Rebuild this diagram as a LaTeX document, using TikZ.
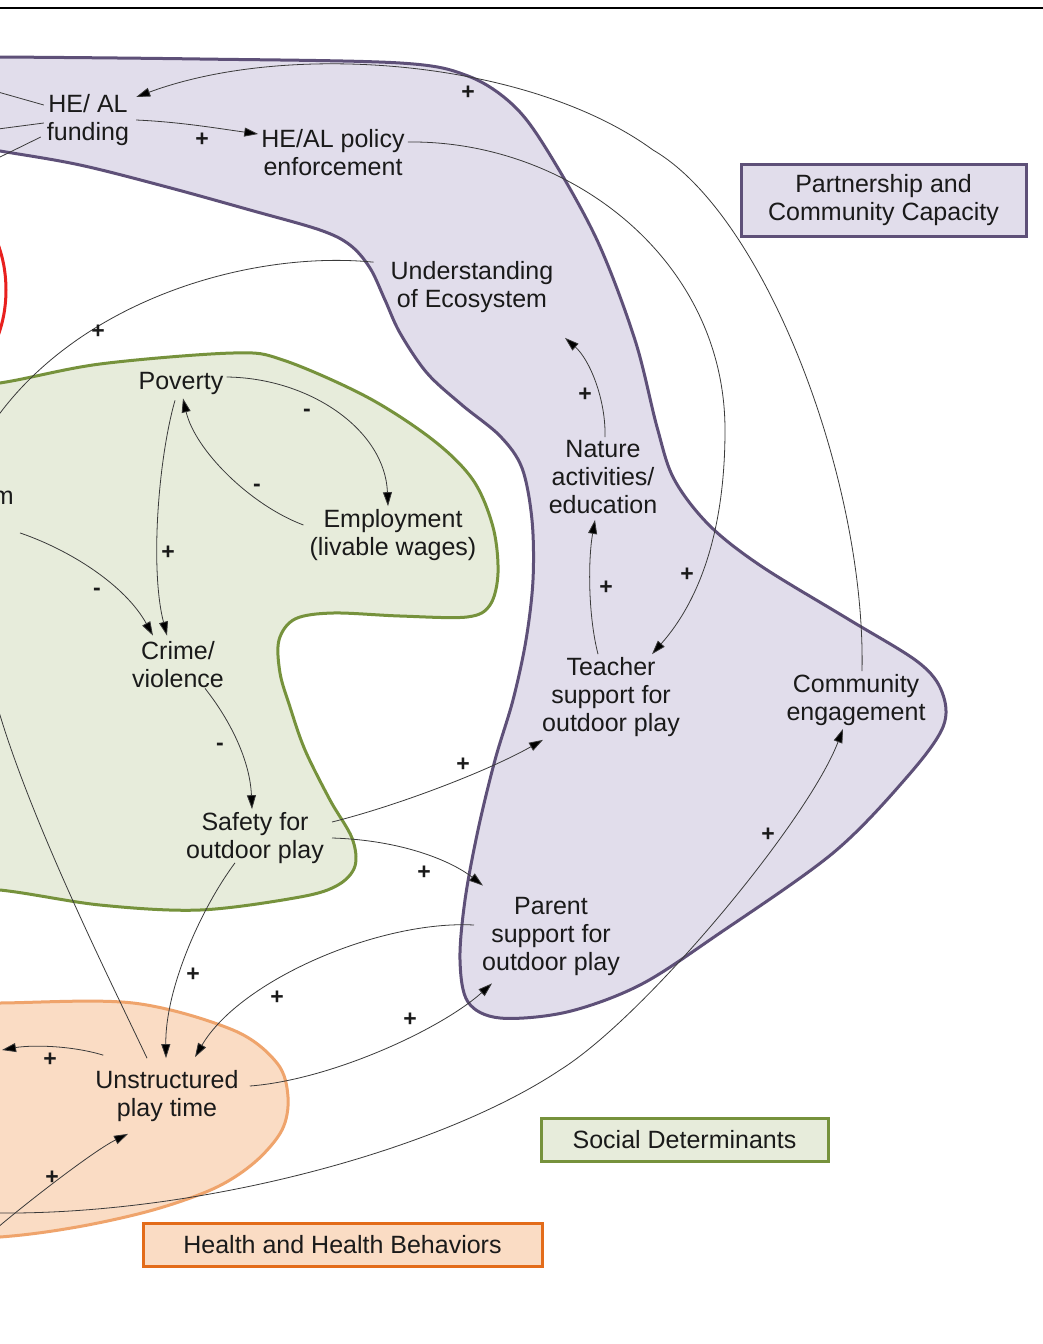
\documentclass[tikz,border=0pt]{standalone}
\usepackage{fontspec}
\setmainfont{Liberation Sans}
\usetikzlibrary{arrows.meta}
\definecolor{purfill}{HTML}{E1DDEB}
\definecolor{purline}{HTML}{5E5078}
\definecolor{grnfill}{HTML}{E7ECDB}
\definecolor{grnline}{HTML}{76923C}
\definecolor{orgfill}{HTML}{FADCC4}
\definecolor{orgline}{HTML}{EFA46C}
\definecolor{orgbox}{HTML}{E36C1A}
\definecolor{redline}{HTML}{E8201E}
\definecolor{lin}{HTML}{3A3A3A}
\definecolor{txt}{HTML}{1A1A1A}
\begin{document}
\begin{tikzpicture}[x=1pt,y=-1pt,
  lbl/.style={font=\fontsize{25}{28}\selectfont, align=center, inner sep=3pt, text=txt},
  conn/.style={draw=lin, line width=0.8pt, -{Triangle[length=14pt,width=9pt,fill=black]}},
  plainline/.style={draw=lin, line width=0.8pt},
  sgn/.style={font=\fontsize{23}{23}\selectfont\bfseries, inner sep=1pt, text=txt},
  region/.style={line width=3pt, smooth cycle, tension=0.55},
  legend/.style={lbl, line width=3pt, minimum height=43pt}]
\useasboundingbox (0,0) rectangle (1043,1344);
\clip (0,0) rectangle (1043,1344);
\fill[white] (0,0) rectangle (1043,1344);
\draw[line width=2.5pt, black] (0,8) -- (1043,8);

% red region (partly visible)
\draw[redline, line width=3pt] (-66,290) ellipse [x radius=72, y radius=100];

% orange region
\draw[region, draw=orgline, fill=orgfill] plot coordinates {(-100,1005) (0,1003) (133,1003) (233,1030) (277,1063) (288,1097) (282,1130) (255,1162) (215,1188) (153,1210) (77,1227) (0,1237) (-100,1240)};

% green region
\draw[region, draw=grnline, fill=grnfill] plot coordinates {(-100,395) (0,383) (100,364) (233,353) (283,360) (367,397) (433,440) (473,480) (493,527) (498,573) (490,605) (467,617) (400,616) (333,613) (295,619) (279,640) (280,673) (290,707) (305,750) (330,800) (352,838) (355,866) (338,885) (300,897) (200,910) (100,905) (0,890) (-100,884)};

% purple region
\draw[region, draw=purline, fill=purfill] plot coordinates {(-100,57) (0,57) (200,59) (400,63) (468,76) (513,105) (547,150) (597,240) (635,340) (657,427) (674,479) (709,525) (761,566) (848,619) (918,662) (942,692) (943,727) (907,777) (833,853) (717,935) (640,985) (567,1012) (500,1018) (468,1002) (460,960) (465,900) (478,830) (495,760) (513,700) (526,640) (533,580) (532,520) (522,468) (500,436) (462,405) (427,373) (400,333) (385,300) (370,268) (350,245) (320,230) (250,210) (167,187) (80,165) (0,151) (-100,135)};

% legend boxes
\node[legend, draw=purline, fill=purfill, minimum width=285pt, minimum height=72pt] (boxpc) at (883.5,200) {Partnership and\\Community Capacity};
\node[legend, draw=grnline, fill=grnfill, minimum width=287pt] (boxsd) at (684.5,1139.5) {Social Determinants};
\node[legend, draw=orgbox, fill=orgfill, minimum width=399pt] (boxhh) at (342.5,1244.5) {Health and Health Behaviors};

% variable nodes
\node[lbl] (hefund) at (88,120) {HE/ AL\\funding};
\node[lbl] (hepol) at (333,153) {HE/AL policy\\enforcement};
\node[lbl] (under) at (472,287) {Understanding\\of Ecosystem};
\node[lbl] (pov) at (181,383) {Poverty};
\node[lbl, anchor=east] (mnode) at (17,498) {m};
\node[lbl] (emp) at (393,535) {Employment\\(livable wages)};
\node[lbl] (crime) at (178,665) {Crime/\\violence};
\node[lbl] (nature) at (603,477) {Nature\\activities/\\education};
\node[lbl] (teacher) at (611,697) {Teacher\\support for\\outdoor play};
\node[lbl] (comm) at (856,700) {Community\\engagement};
\node[lbl] (safety) at (255,838) {Safety for\\outdoor play};
\node[lbl] (parent) at (551,936) {Parent\\support for\\outdoor play};
\node[lbl] (unstr) at (167,1096) {Unstructured\\play time};

% free ends at the left border
\coordinate (fl1) at (-2,92);
\coordinate (fl2) at (-2,129);
\coordinate (fl3) at (-2,158);
\coordinate (fl4) at (-5,420);
\coordinate (fl5) at (-3,705);
\coordinate (fl6) at (2,1050);
\coordinate (fl7) at (-3,1228);
\coordinate (fl8) at (-3,1213);

% connectors
\draw[plainline] ([yshift=15pt]hefund.west) -- (fl1);
\draw[plainline] ([yshift=-3pt]hefund.west) -- (fl2);
\draw[plainline] ([xshift=-3pt,yshift=-17pt]hefund.west) -- (fl3);

\draw[conn] ([xshift=6pt]comm.north) .. controls (866,480) and (765,215) .. (653,150)
  .. controls (530,60) and (290,40) .. ([xshift=4pt,yshift=23pt]hefund.east);
\draw[conn] ([xshift=4pt]hefund.east) .. controls (180,122) and (215,128) .. ([yshift=19pt]hepol.west);
\draw[conn] ([yshift=11pt]hepol.east) .. controls (570,140) and (725,260) .. (725,430)
  .. controls (725,530) and (700,600) .. ([xshift=41pt]teacher.north);
\draw[plainline] ([xshift=-14pt,yshift=-4pt]under.north west) .. controls (250,250) and (80,300) .. (fl4);
\draw[conn] ([xshift=2pt]nature.north) .. controls (606,400) and (590,360) .. ([xshift=93pt,yshift=-22pt]under.south);
\draw[conn] ([xshift=-13pt]teacher.north) .. controls (588,615) and (588,560) .. ([xshift=-8pt,yshift=-3pt]nature.south);
\draw[conn] ([yshift=6pt]pov.east) .. controls (310,378) and (385,430) .. ([xshift=-5pt]emp.north);
\draw[conn] ([xshift=-3pt,yshift=10pt]emp.west) .. controls (250,505) and (195,450) .. ([xshift=2pt,yshift=-1pt]pov.south);
\draw[conn] ([xshift=-6pt,yshift=-3pt]pov.south) .. controls (158,460) and (150,570) .. ([xshift=-11pt,yshift=3pt]crime.north);
\draw[conn] ([xshift=3pt,yshift=-25pt]mnode.south east) .. controls (70,550) and (125,585) .. ([xshift=-25pt,yshift=3pt]crime.north);
\draw[conn] ([xshift=27pt,yshift=3pt]crime.south) .. controls (230,720) and (250,760) .. ([xshift=-3pt]safety.north);
\draw[conn] ([xshift=5pt,yshift=16pt]safety.east) .. controls (400,805) and (490,770) .. ([xshift=4pt]teacher.south west);
\draw[conn] ([xshift=5pt]safety.east) .. controls (400,840) and (450,860) .. ([xshift=4pt,yshift=8pt]parent.north west);
\draw[conn] ([xshift=-20pt,yshift=4pt]safety.south) .. controls (200,910) and (165,990) .. ([xshift=-1pt,yshift=9pt]unstr.north);
\draw[conn] ([xshift=-5pt,yshift=11pt]parent.west) .. controls (380,920) and (240,980) .. ([xshift=28pt,yshift=10pt]unstr.north);
\draw[conn] ([xshift=8pt,yshift=10pt]unstr.east) .. controls (330,1080) and (440,1030) .. ([xshift=13pt,yshift=-5pt]parent.south west);
\draw[plainline] ([xshift=-20pt,yshift=9pt]unstr.north) .. controls (110,980) and (30,820) .. (fl5);
\draw[conn] ([xshift=11pt,yshift=12pt]unstr.north west) .. controls (70,1045) and (30,1045) .. (fl6);
\draw[conn] (fl7) .. controls (30,1200) and (95,1150) .. ([xshift=-39pt,yshift=-9pt]unstr.south);
\draw[conn] (fl8) .. controls (200,1215) and (440,1150) .. (560,1070)
  .. controls (645,1017) and (808,821) .. ([xshift=-13pt]comm.south);

% polarity signs
\node[sgn] (s1) at (468,93) {+};
\node[sgn] (s2) at (202,140) {+};
\node[sgn] (s3) at (98,332) {+};
\node[sgn] (s4) at (585,395) {+};
\node[sgn] (s5) at (687,575) {+};
\node[sgn] (s6) at (606,588) {+};
\node[sgn] (s7) at (168,553) {+};
\node[sgn] (s8) at (463,765) {+};
\node[sgn] (s9) at (424,873) {+};
\node[sgn] (s10) at (193,975) {+};
\node[sgn] (s11) at (277,998) {+};
\node[sgn] (s12) at (410,1020) {+};
\node[sgn] (s13) at (50,1060) {+};
\node[sgn] (s14) at (52,1178) {+};
\node[sgn] (s15) at (768,835) {+};
\node[sgn] (m1) at (307,413) {-};
\node[sgn] (m2) at (257,488) {-};
\node[sgn] (m3) at (97,592) {-};
\node[sgn] (m4) at (220,747) {-};
\end{tikzpicture}
\end{document}
